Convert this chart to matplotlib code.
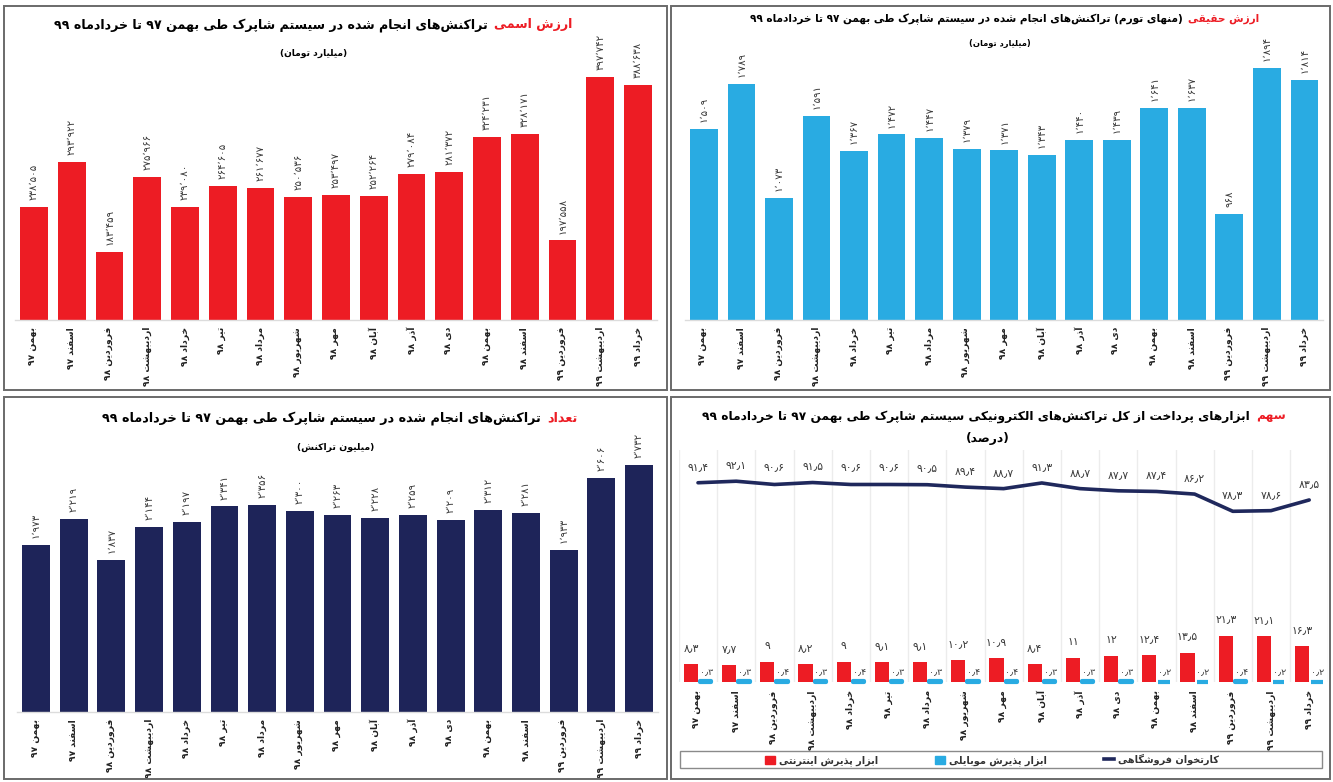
import matplotlib
matplotlib.use('Agg')
import matplotlib.pyplot as plt
from matplotlib.patches import Rectangle, Patch
from matplotlib.lines import Line2D
from matplotlib.offsetbox import TextArea, HPacker, AnchoredOffsetbox
import numpy as np

plt.rcParams['font.family'] = ['DejaVu Sans']

# ---------------- data ----------------
months = ['بهمن ۹۷', 'اسفند ۹۷', 'فروردین ۹۸', 'اردیبهشت ۹۸', 'خرداد ۹۸', 'تیر ۹۸',
          'مرداد ۹۸', 'شهریور ۹۸', 'مهر ۹۸', 'آبان ۹۸', 'آذر ۹۸', 'دی ۹۸',
          'بهمن ۹۸', 'اسفند ۹۸', 'فروردین ۹۹', 'اردیبهشت ۹۹', 'خرداد ۹۹']
nominal_value = [238505, 293922, 183459, 275966, 239080, 264605, 261677, 250536, 253497,
                 252264, 279084, 281372, 324231, 328171, 197558, 397742, 388638]
real_value = [1509, 1789, 1073, 1591, 1367, 1472, 1447, 1379, 1371, 1343, 1440, 1439,
              1641, 1637, 968, 1894, 1814]
tx_count = [1973, 2219, 1837, 2144, 2197, 2341, 2356, 2300, 2263, 2228, 2259, 2209,
            2312, 2281, 1933, 2606, 2732]
share_pos = [91.4, 92.1, 90.6, 91.5, 90.6, 90.6, 90.5, 89.4, 88.7, 91.3, 88.7, 87.7,
             87.4, 86.2, 78.3, 78.6, 83.5]
share_internet = [8.3, 7.7, 9, 8.2, 9, 9.1, 9.1, 10.2, 10.9, 8.4, 11, 12, 12.4, 13.5,
                  21.3, 21.1, 16.3]
share_mobile = [0.3, 0.3, 0.4, 0.3, 0.4, 0.3, 0.3, 0.4, 0.4, 0.3, 0.3, 0.3, 0.2, 0.2,
                0.4, 0.2, 0.2]

legend_labels = ['ابزار پذیرش اینترنتی', 'ابزار پذیرش موبایلی', 'کارتخوان فروشگاهی']
titles = [
    ('ارزش اسمی', 'تراکنش‌های انجام شده در سیستم شاپرک طی بهمن ۹۷ تا خردادماه ۹۹'),
    ('ارزش حقیقی', '(منهای تورم) تراکنش‌های انجام شده در سیستم شاپرک طی بهمن ۹۷ تا خردادماه ۹۹'),
    ('تعداد', 'تراکنش‌های انجام شده در سیستم شاپرک طی بهمن ۹۷ تا خردادماه ۹۹'),
    ('سهم', 'ابزارهای پرداخت از کل تراکنش‌های الکترونیکی سیستم شاپرک طی بهمن ۹۷ تا خردادماه ۹۹'),
]
subtitles = ['(میلیارد تومان)', '(میلیارد تومان)', '(میلیون تراکنش)', '(درصد)']

# ---------------- Persian shaping helpers ----------------
FORMS = {
    '\u0622': ('\uFE81', '\uFE82', None, None),
    '\u0627': ('\uFE8D', '\uFE8E', None, None),
    '\u0628': ('\uFE8F', '\uFE90', '\uFE91', '\uFE92'),
    '\u067E': ('\uFB56', '\uFB57', '\uFB58', '\uFB59'),
    '\u062A': ('\uFE95', '\uFE96', '\uFE97', '\uFE98'),
    '\u062B': ('\uFE99', '\uFE9A', '\uFE9B', '\uFE9C'),
    '\u062C': ('\uFE9D', '\uFE9E', '\uFE9F', '\uFEA0'),
    '\u0686': ('\uFB7A', '\uFB7B', '\uFB7C', '\uFB7D'),
    '\u062D': ('\uFEA1', '\uFEA2', '\uFEA3', '\uFEA4'),
    '\u062E': ('\uFEA5', '\uFEA6', '\uFEA7', '\uFEA8'),
    '\u062F': ('\uFEA9', '\uFEAA', None, None),
    '\u0630': ('\uFEAB', '\uFEAC', None, None),
    '\u0631': ('\uFEAD', '\uFEAE', None, None),
    '\u0632': ('\uFEAF', '\uFEB0', None, None),
    '\u0698': ('\uFB8A', '\uFB8B', None, None),
    '\u0633': ('\uFEB1', '\uFEB2', '\uFEB3', '\uFEB4'),
    '\u0634': ('\uFEB5', '\uFEB6', '\uFEB7', '\uFEB8'),
    '\u0635': ('\uFEB9', '\uFEBA', '\uFEBB', '\uFEBC'),
    '\u0636': ('\uFEBD', '\uFEBE', '\uFEBF', '\uFEC0'),
    '\u0637': ('\uFEC1', '\uFEC2', '\uFEC3', '\uFEC4'),
    '\u0638': ('\uFEC5', '\uFEC6', '\uFEC7', '\uFEC8'),
    '\u0639': ('\uFEC9', '\uFECA', '\uFECB', '\uFECC'),
    '\u063A': ('\uFECD', '\uFECE', '\uFECF', '\uFED0'),
    '\u0641': ('\uFED1', '\uFED2', '\uFED3', '\uFED4'),
    '\u0642': ('\uFED5', '\uFED6', '\uFED7', '\uFED8'),
    '\u06A9': ('\uFB8E', '\uFB8F', '\uFB90', '\uFB91'),
    '\u06AF': ('\uFB92', '\uFB93', '\uFB94', '\uFB95'),
    '\u0644': ('\uFEDD', '\uFEDE', '\uFEDF', '\uFEE0'),
    '\u0645': ('\uFEE1', '\uFEE2', '\uFEE3', '\uFEE4'),
    '\u0646': ('\uFEE5', '\uFEE6', '\uFEE7', '\uFEE8'),
    '\u0648': ('\uFEED', '\uFEEE', None, None),
    '\u0647': ('\uFEE9', '\uFEEA', '\uFEEB', '\uFEEC'),
    '\u06CC': ('\uFBFC', '\uFBFD', '\uFBFE', '\uFBFF'),
}
DIGITS = set('۰۱۲۳۴۵۶۷۸۹0123456789')
MIRROR = {'(': ')', ')': '('}


def shape(s):
    out = []
    n = len(s)
    for i, ch in enumerate(s):
        if ch not in FORMS:
            out.append(ch)
            continue
        f = FORMS[ch]
        prev = s[i - 1] if i > 0 else ''
        nxt = s[i + 1] if i + 1 < n else ''
        pj = prev in FORMS and FORMS[prev][2] is not None
        nj = f[2] is not None and nxt in FORMS
        if pj and nj:
            out.append(f[3])
        elif pj:
            out.append(f[1])
        elif nj:
            out.append(f[2])
        else:
            out.append(f[0])
    return ''.join(out).replace('\u200c', '')


def rtl(s):
    s = shape(s)
    runs = []
    i = 0
    while i < len(s):
        if s[i] in DIGITS:
            j = i
            while j < len(s) and (s[j] in DIGITS or (s[j] in '٫٬' and j + 1 < len(s) and s[j + 1] in DIGITS)):
                j += 1
            runs.append((True, s[i:j]))
        else:
            j = i
            while j < len(s) and s[j] not in DIGITS:
                j += 1
            runs.append((False, s[i:j]))
        i = j
    out = []
    for isnum, t in reversed(runs):
        out.append(t if isnum else ''.join(MIRROR.get(c, c) for c in reversed(t)))
    return ''.join(out)


FA = str.maketrans('0123456789', '۰۱۲۳۴۵۶۷۸۹')


def fa_int(v):
    return f'{v:,}'.replace(',', '٬').translate(FA)


def fa_dec(v):
    return f'{v:g}'.replace('.', '٫').translate(FA)


# ---------------- figure ----------------
W, H = 1333, 782
fig = plt.figure(figsize=(W / 100, H / 100), dpi=100)
fig.patch.set_facecolor('white')
renderer = fig.canvas.get_renderer()


def fx(x):
    return x / W


def fy(y):
    return 1 - y / H


def add_axes_px(x0, x1, ytop, ybot):
    return fig.add_axes([fx(x0), fy(ybot), (x1 - x0) / W, (ybot - ytop) / H])


def fit_size(text, target_px, base=10.0):
    t = fig.text(0, 0, text, fontsize=base, fontweight='bold')
    w = t.get_window_extent(renderer).width
    t.remove()
    return base * target_px / w


RED = '#ED1C24'
CYAN = '#29ABE2'
NAVY = '#1E2459'
LINE_NAVY = '#1F285C'
TXT = '#3a3a3a'

# panel borders
for (x0, y0, x1, y1) in [(4, 6, 667, 390), (671, 6, 1330, 390), (4, 397, 667, 779), (671, 397, 1330, 779)]:
    fig.add_artist(Rectangle((fx(x0), fy(y1)), (x1 - x0) / W, (y1 - y0) / H,
                             transform=fig.transFigure, fill=False, ec='#6a6a6a', lw=1.4))


def put_title(idx, cx, cy, target_w):
    red, rest = titles[idx]
    size = fit_size(rtl(rest) + '  ' + rtl(red), target_w)
    props = dict(fontsize=size, fontweight='bold')
    ta_black = TextArea(rtl(rest), textprops=dict(color='black', **props))
    ta_red = TextArea(rtl(red), textprops=dict(color=RED, **props))
    box = HPacker(children=[ta_black, ta_red], align='baseline', pad=0, sep=size * 0.5)
    anc = AnchoredOffsetbox(loc='center', child=box, pad=0, borderpad=0, frameon=False,
                            bbox_to_anchor=(fx(cx), fy(cy)), bbox_transform=fig.transFigure)
    fig.add_artist(anc)


def put_sub(idx, cx, cy, target_w):
    s = rtl(subtitles[idx])
    size = fit_size(s, target_w)
    fig.text(fx(cx), fy(cy), s, ha='center', va='center',
             fontsize=size, fontweight='bold', color='black')


x = np.arange(len(months))
month_labels = [rtl(m) for m in months]


def bar_panel(ax, vals, color, ymin, ybot_px, ytop_px, scale, width):
    ax.bar(x, vals, width=width, color=color, zorder=2)
    ax.set_xlim(-0.5, len(months) - 0.5)
    ax.set_ylim(ymin, ymin + (ybot_px - ytop_px) / scale)
    ax.set_yticks([])
    ax.set_xticks(x)
    ax.set_xticklabels(month_labels, rotation=90, fontsize=6.6, fontweight='bold', color='#222222')
    ax.tick_params(axis='x', length=0, pad=5)
    for s in ['top', 'left', 'right']:
        ax.spines[s].set_visible(False)
    ax.spines['bottom'].set_color('#dcdcdc')
    ax.spines['bottom'].set_linewidth(1.0)
    for i, v in enumerate(vals):
        ax.annotate(fa_int(v), xy=(i, v), xytext=(0, 5), textcoords='offset points',
                    rotation=90, ha='center', va='bottom', fontsize=7.4, color=TXT)
    ax.patch.set_alpha(0)


# Panel 1: nominal value
ax1 = add_axes_px(15.1, 656.9, 20, 320)
bar_panel(ax1, nominal_value, RED, 100000, 320, 20, 0.000815, 0.74)
put_title(0, 313, 25, 520)
put_sub(0, 314, 53, 68)

# Panel 2: real value
ax2 = add_axes_px(685.2, 1323.2, 20, 320)
bar_panel(ax2, real_value, CYAN, 300, 320, 20, 0.1583, 0.74)
put_title(1, 1005, 19, 515)
put_sub(1, 1000, 43, 62)

# Panel 3: count
ax3 = add_axes_px(17.2, 657.9, 450, 712)
bar_panel(ax3, tx_count, NAVY, 400, 712, 450, 0.1059, 0.74)
put_title(2, 340, 418, 480)
put_sub(2, 336, 447, 78)

# Panel 4: shares
ax4 = add_axes_px(678.9, 1328.3, 450, 682)
k4 = 2.18
ax4.set_xlim(-0.5, len(months) - 0.5)
ax4.set_ylim(0, (682 - 450) / k4)
for i in range(len(months) + 1):
    ax4.axvline(i - 0.5, color='#ececec', lw=1.0, zorder=0)
ax4.bar(x - 0.185, share_internet, width=0.37, color=RED, zorder=3)
ax4.bar(x + 0.20, share_mobile, width=0.30, color=CYAN, ec=CYAN, lw=3.0,
        joinstyle='round', zorder=3, clip_on=False)
ax4.plot(x, share_pos, color=LINE_NAVY, lw=2.6, zorder=4, solid_capstyle='round')
for i in range(len(months)):
    ax4.annotate(fa_dec(share_internet[i]), xy=(x[i] - 0.185, share_internet[i]), xytext=(0, 8),
                 textcoords='offset points', ha='center', va='bottom', fontsize=7.8, color=TXT)
    ax4.annotate(fa_dec(share_mobile[i]), xy=(x[i] + 0.22, share_mobile[i]), xytext=(0, 3),
                 textcoords='offset points', ha='center', va='bottom', fontsize=6.8, color=TXT)
    ax4.annotate(fa_dec(share_pos[i]), xy=(x[i], share_pos[i]), xytext=(0, 8),
                 textcoords='offset points', ha='center', va='bottom', fontsize=7.8, color=TXT)
ax4.set_yticks([])
ax4.set_xticks(x)
ax4.set_xticklabels(month_labels, rotation=90, fontsize=6.6, fontweight='bold', color='#222222')
ax4.tick_params(axis='x', length=0, pad=6)
for s in ax4.spines.values():
    s.set_visible(False)
ax4.patch.set_alpha(0)
put_title(3, 994, 416, 590)
put_sub(3, 988, 439, 44)

handles = [Patch(color=RED), Patch(color=CYAN), Line2D([0], [0], color=LINE_NAVY, lw=2.6)]
leg = fig.legend(handles, [rtl(t) for t in legend_labels], ncol=3, loc='center',
                 bbox_to_anchor=(fx(992), fy(760)), frameon=False, fontsize=7.0,
                 handlelength=1.0, handleheight=0.9, handletextpad=0.4, columnspacing=5.9)
for t in leg.get_texts():
    t.set_fontweight('bold')
    t.set_color('#333333')
fig.add_artist(Rectangle((fx(680), fy(768)), (1322 - 680) / W, 17 / H, transform=fig.transFigure,
                         fill=False, ec='#8a8a8a', lw=1.0))

fig.savefig('out.png', dpi=100, facecolor='white')
